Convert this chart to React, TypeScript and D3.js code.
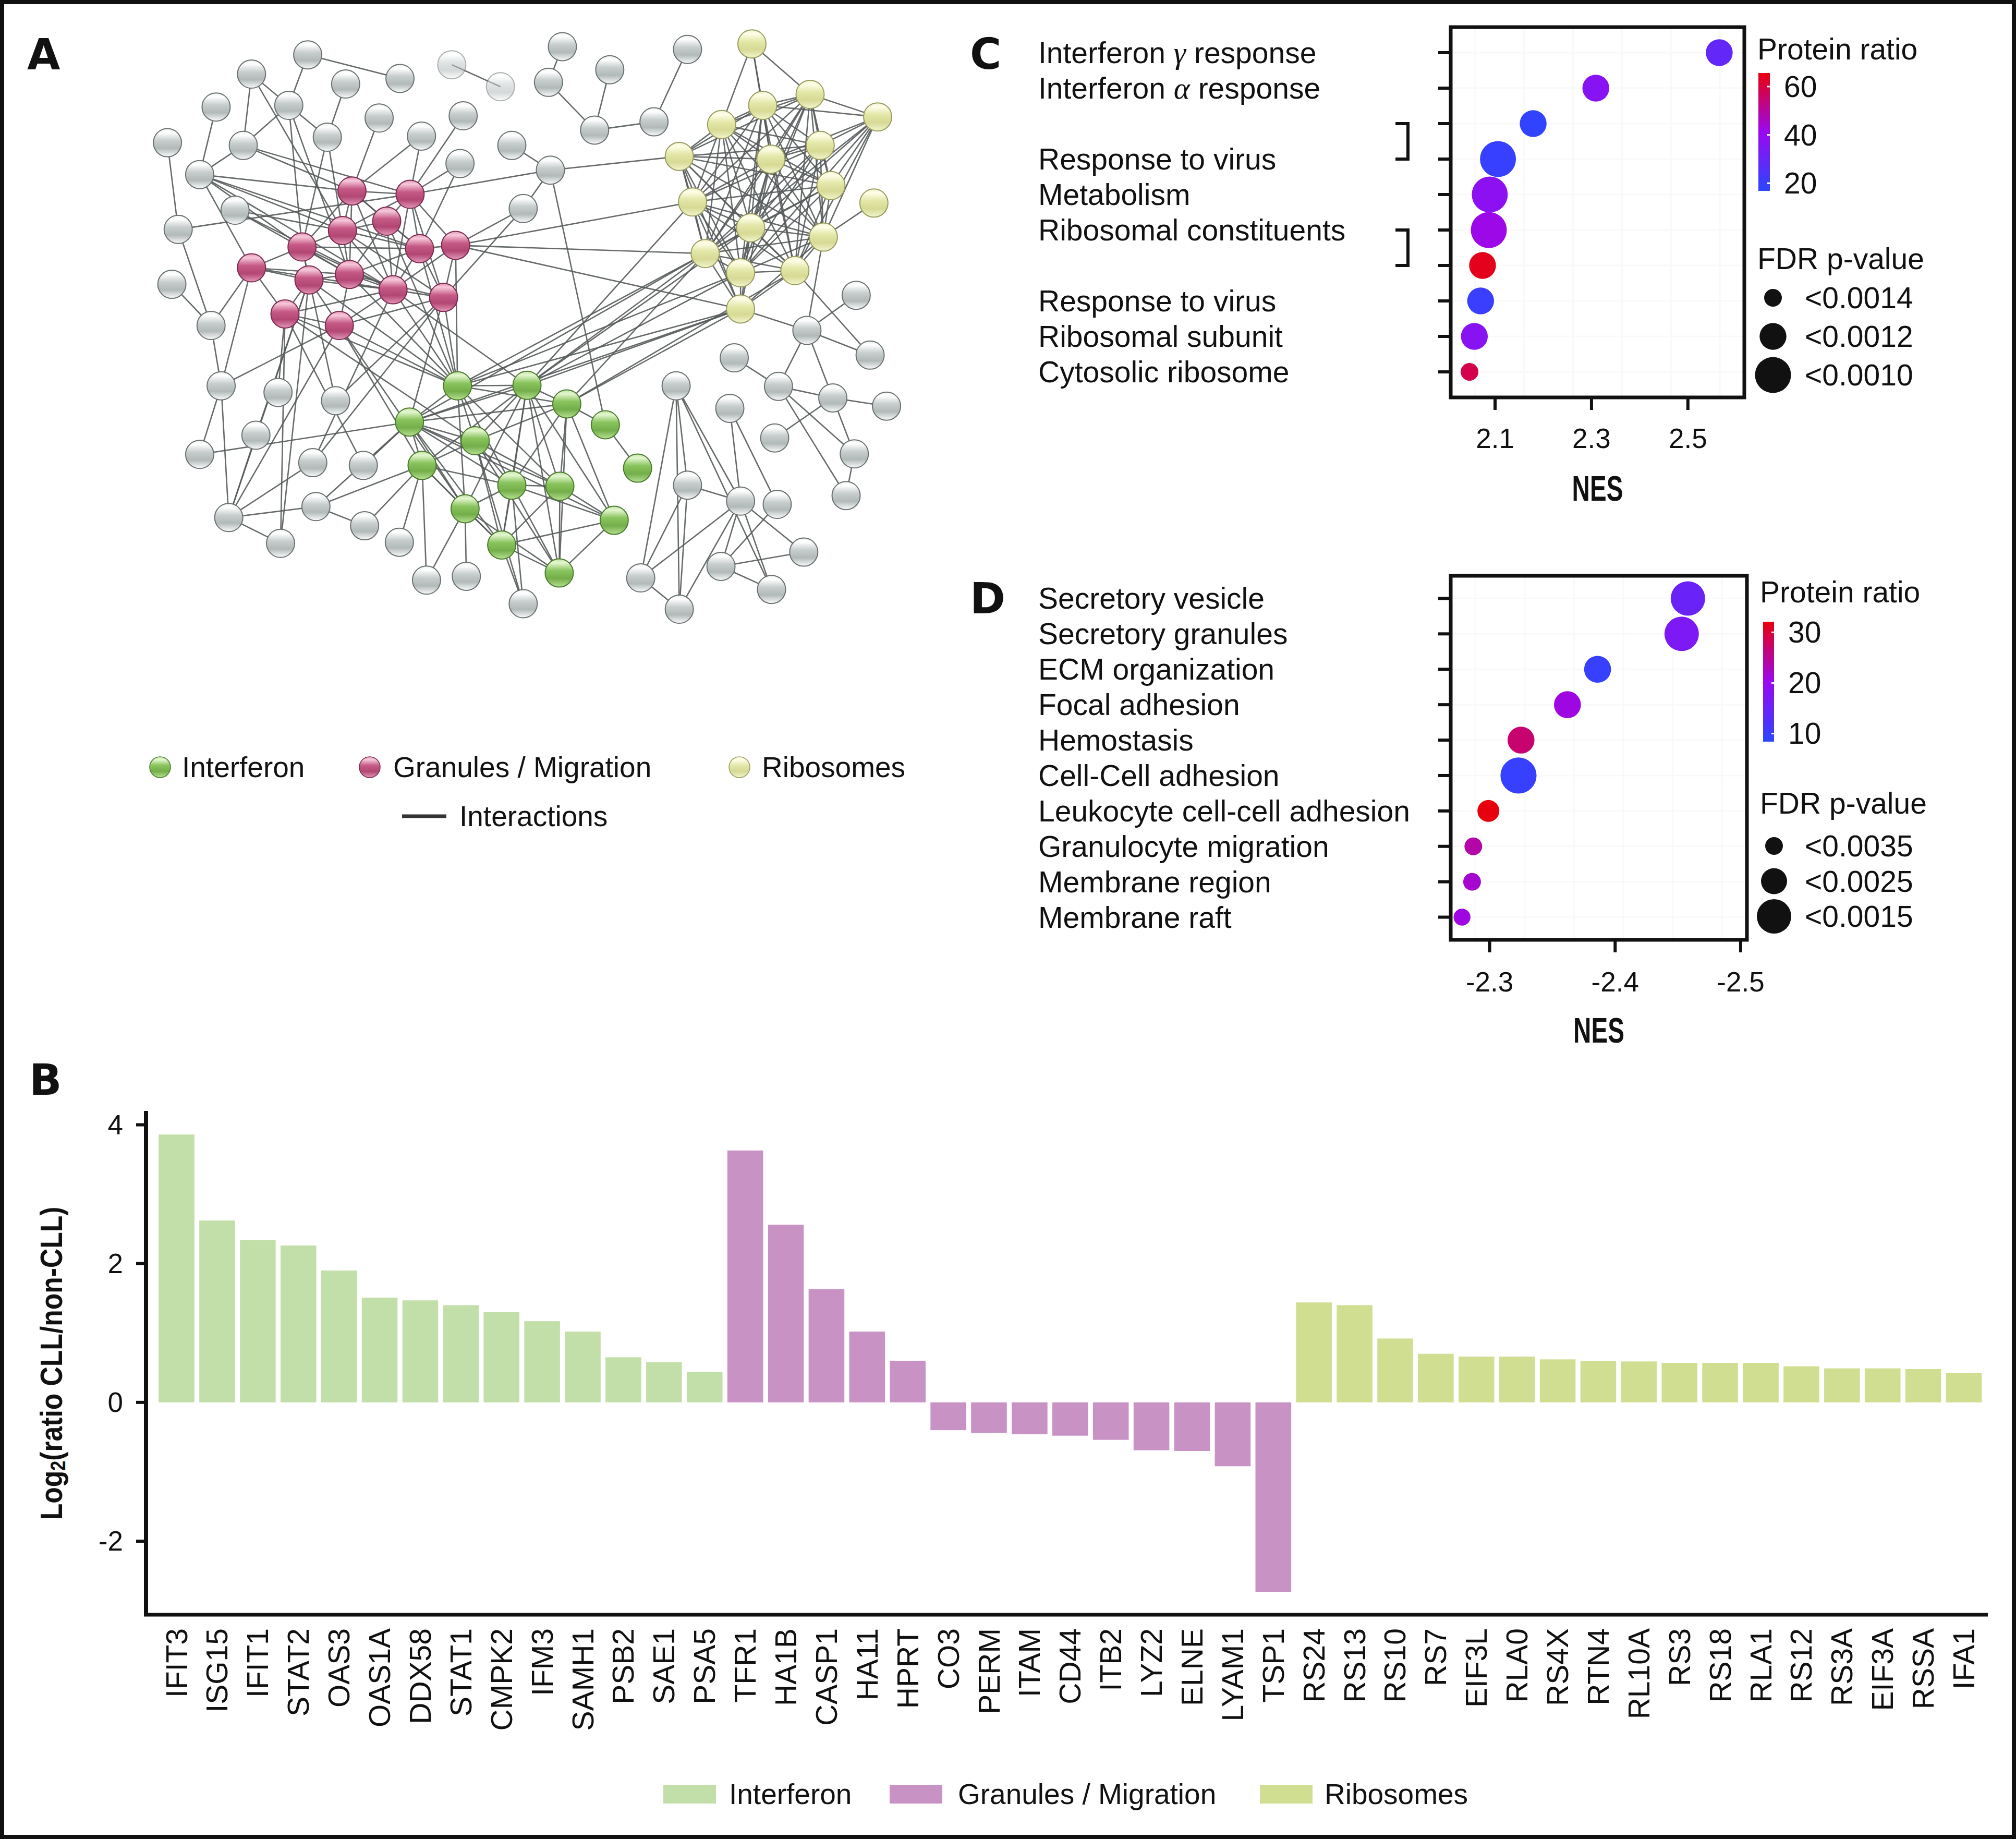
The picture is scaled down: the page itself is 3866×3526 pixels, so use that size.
import React from "react";
import * as d3 from "d3";

const W = 3866;
const H = 3526;
const SANS = "'Liberation Sans', Arial, Helvetica, sans-serif";
const SERIF = "'Liberation Serif', 'DejaVu Serif', serif";
const HEAVY = "'DejaVu Sans', 'Liberation Sans', sans-serif";

// ---------------- Panel B data ----------------
const interferonGenes = ["IFIT3", "ISG15", "IFIT1", "STAT2", "OAS3", "OAS1A", "DDX58", "STAT1", "CMPK2", "IFM3", "SAMH1", "PSB2", "SAE1", "PSA5"];
const interferonValues = [3.86, 2.62, 2.34, 2.26, 1.9, 1.51, 1.47, 1.4, 1.3, 1.17, 1.02, 0.65, 0.58, 0.44];
const granuleGenes = ["TFR1", "HA1B", "CASP1", "HA11", "HPRT", "CO3", "PERM", "ITAM", "CD44", "ITB2", "LYZ2", "ELNE", "LYAM1", "TSP1"];
const granuleValues = [3.63, 2.56, 1.63, 1.02, 0.6, -0.4, -0.44, -0.46, -0.48, -0.54, -0.69, -0.7, -0.92, -2.73];
const ribosomeGenes = ["RS24", "RS13", "RS10", "RS7", "EIF3L", "RLA0", "RS4X", "RTN4", "RL10A", "RS3", "RS18", "RLA1", "RS12", "RS3A", "EIF3A", "RSSA", "IFA1"];
const ribosomeValues = [1.44, 1.4, 0.92, 0.7, 0.66, 0.66, 0.62, 0.6, 0.59, 0.57, 0.57, 0.57, 0.52, 0.49, 0.49, 0.48, 0.42];
const yTicksB = [-2, 0, 2, 4];
const groupLabels = ["Interferon", "Granules / Migration", "Ribosomes"];
const barColors = ["#c3dfa9", "#c892c4", "#d0de91"];

// ---------------- Panel C data ----------------
// [text before greek, greek letter, text after]
const cTerms: [string, string, string][] = [
  ["Interferon ", "\u03b3", " response"], ["Interferon ", "\u03b1", " response"], ["", "", ""],
  ["Response to virus", "", ""], ["Metabolism", "", ""], ["Ribosomal constituents", "", ""], ["", "", ""],
  ["Response to virus", "", ""], ["Ribosomal subunit", "", ""], ["Cytosolic ribosome", "", ""],
];
const cNES = [2.565, 2.309, 2.179, 2.106, 2.089, 2.087, 2.074, 2.07, 2.057, 2.047];
const cRatio = [29, 37, 18, 19, 38, 42, 64, 20, 37, 59];
const cFDR = [0.0012, 0.0012, 0.0012, 0.001, 0.001, 0.001, 0.0012, 0.0012, 0.0012, 0.0014];
const cXTicks = [2.1, 2.3, 2.5];
const cRatioTicks = [20, 40, 60];
const cFdrLegend = [0.0014, 0.0012, 0.001];
const cBrackets: [number, number][] = [[2, 3], [5, 6]];

// ---------------- Panel D data ----------------
const dTerms: [string, string, string][] = [
  "Secretory vesicle", "Secretory granules", "ECM organization", "Focal adhesion", "Hemostasis",
  "Cell-Cell adhesion", "Leukocyte cell-cell adhesion", "Granulocyte migration", "Membrane region", "Membrane raft",
].map((s) => [s, "", ""] as [string, string, string]);
const dNES = [-2.458, -2.453, -2.386, -2.362, -2.325, -2.323, -2.299, -2.287, -2.286, -2.278];
const dRatio = [15, 17, 9.5, 21, 27, 9.5, 32, 24, 22, 21];
const dFDR = [0.0015, 0.0015, 0.0024, 0.0024, 0.0024, 0.0013, 0.003, 0.0035, 0.0035, 0.0036];
const dXTicks = [-2.3, -2.4, -2.5];
const dRatioTicks = [10, 20, 30];
const dFdrLegend = [0.0035, 0.0025, 0.0015];

// ---------------- Panel A network (layout units) ----------------
const grayNodes: [string, number, number][] = [
  ["g1", 487, 100], ["g2", 398, 135], ["g3", 633, 143], ["g4", 715, 118], ["g5", 792, 158],
  ["g6", 890, 85], ["g7", 965, 127], ["g8", 868, 150], ["g9", 1088, 90], ["g10", 941, 237],
  ["g11", 1035, 222], ["g12", 342, 195], ["g13", 457, 192], ["g14", 547, 153], ["g15", 600, 215],
  ["g16", 733, 211], ["g17", 265, 260], ["g18", 385, 265], ["g19", 518, 250], ["g20", 667, 248],
  ["g21", 810, 265], ["g22", 728, 298], ["g23", 316, 318], ["g24", 871, 310], ["g25", 372, 383],
  ["g26", 828, 380], ["g27", 282, 418], ["g28", 272, 518], ["g29", 334, 593], ["g30", 350, 703],
  ["g31", 440, 715], ["g32", 531, 730], ["g33", 405, 793], ["g34", 316, 828], ["g35", 495, 843],
  ["g36", 575, 848], ["g37", 362, 943], ["g38", 500, 923], ["g39", 577, 958], ["g40", 444, 990],
  ["g41", 632, 988], ["g42", 675, 1057], ["g43", 738, 1050], ["g44", 828, 1100],
  ["R1", 1355, 538], ["R2", 1277, 602], ["R3", 1162, 652], ["R4", 1377, 647], ["R5", 1232, 704],
  ["R6", 1318, 725], ["R7", 1403, 740], ["R8", 1070, 703], ["R9", 1155, 744], ["R10", 1226, 798],
  ["R11", 1352, 827], ["R12", 1339, 903], ["R13", 1088, 884], ["R14", 1172, 913], ["R15", 1230, 919],
  ["R16", 1272, 1006], ["R17", 1141, 1032], ["R18", 1014, 1053], ["R19", 1221, 1074], ["R20", 1075, 1110],
];
const granuleNodes: [string, number, number][] = [
  ["P1", 557, 348], ["P2", 649, 354], ["P3", 612, 403], ["P4", 542, 420], ["P5", 478, 450],
  ["P6", 664, 453], ["P7", 721, 447], ["P8", 398, 488], ["P9", 489, 510], ["P10", 553, 500],
  ["P11", 622, 528], ["P12", 702, 542], ["P13", 451, 572], ["P14", 537, 593],
];
const interferonNodes: [string, number, number][] = [
  ["G1", 724, 703], ["G2", 834, 702], ["G3", 897, 736], ["G4", 958, 774], ["G5", 648, 769],
  ["G6", 752, 803], ["G7", 668, 848], ["G8", 1009, 853], ["G9", 810, 884], ["G10", 886, 886],
  ["G11", 736, 927], ["G12", 972, 948], ["G13", 794, 993], ["G14", 885, 1044],
];
const ribosomeNodes: [string, number, number][] = [
  ["Y1", 1190, 80], ["Y2", 1282, 172], ["Y3", 1207, 192], ["Y4", 1389, 213], ["Y5", 1142, 227],
  ["Y6", 1298, 265], ["Y7", 1075, 285], ["Y8", 1220, 290], ["Y9", 1315, 338], ["Y10", 1383, 370],
  ["Y11", 1096, 368], ["Y12", 1188, 415], ["Y13", 1303, 432], ["Y14", 1116, 462], ["Y15", 1172, 497],
  ["Y16", 1258, 493], ["Y17", 1172, 563],
];
const fadedNodes = ["g4", "g5"];
const networkEdges: string[] = [
  "g1:g3,g13", "g2:g18,g13,P4", "g4:g5", "g6:g8", "g7:g10", "g8:g10", "g9:g11", "g10:g11",
  "g12:g23", "g13:g18,g19,P5,P10", "g14:g19", "g15:P1", "g16:P2", "g17:g27", "g18:g23,P1,P2",
  "g19:P5,P4", "g20:P1,P2", "g21:g24", "g22:P2,P6", "g23:P1,P4,P5,P6,P8,P11", "g24:g26,P2,Y7,G4",
  "g25:P4,P11,P10", "g26:P7,P12", "g27:g29,P2", "g28:g29", "g29:g30,P8", "g30:g34,g37,P8,P14",
  "g31:P13", "g32:P12,P5", "g33:g37,P9", "g34:G5", "g35:g37,P11,P12", "g36:G5,P13",
  "g37:g38,g40,P9,P14", "g38:g39,G7,G5", "g39:G7", "g40:P9,P13", "g41:G7", "g42:G7,G11", "g43:G11",
  "g44:G6,G9,G13",
  "P1:P2,P3,P4,P5,P6,P10,P11", "P2:P3,P4,P6,P7,P11,P12", "P3:P4,P6,P10,P11,G1",
  "P4:P5,P6,P10,P11,P12", "P5:P6,P8,P9,P10,P11", "P6:P7,P10,P11,P12,G1",
  "P7:P11,P12,Y11,Y14,Y17,G1", "P8:P9,P10,P11,P13", "P9:P10,P11,P13,P14,G1",
  "P10:P11,P12,P14,G1", "P11:P12,P13,P14,G1,G2", "P12:P14,G1,G5", "P13:P14,G1,G6", "P14:G1,G7,G11",
  "G1:G2,G3,G5,G6,G9,G10,G11", "G2:G3,G5,G6,G7,G9,G10,G11,G12,G13,G14", "G3:G4,G5,G6,G9,G10,G12,G14",
  "G4:G8", "G5:G6,G7,G9,G10,G11,G12,G13", "G6:G7,G9,G10,G13,G14", "G7:G9,G11,G13",
  "G9:G10,G11,G12,G13,G14", "G10:G12,G13,G14", "G11:G13,G14", "G12:G13,G14", "G13:G14",
  "Y1:Y2,Y3,Y5,Y8",
  "Y2:Y3,Y5,Y6,Y7,Y8,Y9,Y11,Y12,Y13,Y14,Y15,Y16", "Y3:Y5,Y6,Y7,Y8,Y9,Y11,Y12,Y13,Y14,Y15,Y16",
  "Y4:Y2,Y3,Y6,Y8,Y9,Y12,Y13,Y14,Y15,Y16",
  "Y5:Y6,Y7,Y8,Y9,Y11,Y12,Y13,Y14,Y15,Y16", "Y6:Y7,Y8,Y9,Y11,Y12,Y13,Y14,Y15,Y16",
  "Y7:Y8,Y9,Y11,Y12,Y13,Y14,Y15,Y16", "Y8:Y9,Y11,Y12,Y13,Y14,Y15,Y16", "Y9:Y11,Y12,Y13,Y14,Y15,Y16",
  "Y10:Y13", "Y11:Y12,Y13,Y14,Y15,Y16,G2", "Y12:Y13,Y14,Y15,Y16,G2", "Y13:Y14,Y15,Y16,R2",
  "Y14:Y15,Y16,G1,G2,G3,G5", "Y15:Y16,G1,G2", "Y16:G3,R4",
  "Y17:Y7,Y8,Y11,Y12,Y13,Y14,Y15,Y16,G1,G2,G3,G5,R2",
  "R1:R2", "R2:R4,R5,R6", "R3:R5", "R5:R6,R11,R12", "R6:R7,R10,R11", "R11:R12",
  "R8:R13,R14,R18,R19,R20", "R9:R14,R15", "R13:R14,R18,R20", "R14:R16,R17,R18,R19,R20",
  "R15:R17", "R16:R17", "R17:R19", "R18:R20",
];

// ---------------- helpers ----------------
const cbColors = ["#2c46ff", "#9a08f0", "#e8000c"];

type DotProps = {
  terms: [string, string, string][]; nes: number[]; ratio: number[]; fdr: number[];
  box: { l: number; r: number; t: number; b: number }; rowPad: number;
  xDomain: [number, number]; xTicks: number[];
  ratioDomain: [number, number, number]; ratioTicks: number[];
  fdrDomain: [number, number]; rRange: [number, number]; fdrLegend: number[];
  cb: { x: number; w: number; t: number; b: number; labelX: number };
  titleX: number; ratioTitleY: number; fdrTitleY: number; fdrRows: [number, number]; fdrDotX: number; fdrLabelX: number;
  tickLabelY: number; nesY: number; gradId: string; brackets?: [number, number][]; labelX: number;
};

function DotPanel(p: DotProps) {
  const idx = p.terms.map((_, i) => String(i));
  const y = d3.scalePoint<string>().domain(idx).range([p.box.t, p.box.b]).padding(p.rowPad);
  const x = d3.scaleLinear().domain(p.xDomain).range([p.box.l, p.box.r]);
  const color = d3.scaleLinear<string>().domain(p.ratioDomain).range(cbColors).interpolate(d3.interpolateRgb);
  const rad = d3.scaleLinear().domain(p.fdrDomain).range(p.rRange);
  const cbY = d3.scaleLinear().domain([p.ratioDomain[0], p.ratioDomain[2]]).range([p.cb.b, p.cb.t]);
  const fdrY = d3.scalePoint<string>().domain(p.fdrLegend.map(String)).range(p.fdrRows);
  const minor = d3.range(0, 6).map((i) => p.xDomain[0] + ((p.xDomain[1] - p.xDomain[0]) * (i + 0.5)) / 6);
  const fs = 57;
  return (
    <g>
      <defs>
        <linearGradient id={p.gradId} x1="0" y1="1" x2="0" y2="0">
          <stop offset="0" stopColor={color(p.ratioDomain[0])} />
          <stop offset="0.5" stopColor={color(p.ratioDomain[1])} />
          <stop offset="1" stopColor={color(p.ratioDomain[2])} />
        </linearGradient>
      </defs>
      {minor.map((v, i) => (
        <line key={"gv" + i} x1={x(v)} x2={x(v)} y1={p.box.t} y2={p.box.b} stroke="#f9f9f9" strokeWidth={3} />
      ))}
      {idx.map((k) => (
        <line key={"gh" + k} x1={p.box.l} x2={p.box.r} y1={y(k)} y2={y(k)} stroke="#f9f9f9" strokeWidth={3} />
      ))}
      {idx.map((k, i) => (
        <circle key={"d" + k} cx={x(p.nes[i])} cy={y(k)} r={rad(p.fdr[i])} fill={color(p.ratio[i])} />
      ))}
      <rect x={p.box.l} y={p.box.t} width={p.box.r - p.box.l} height={p.box.b - p.box.t} fill="none" stroke="#111" strokeWidth={7} />
      {idx.map((k, i) => {
        const [a, g, b] = p.terms[i];
        return (
          <g key={"yt" + k}>
            <line x1={p.box.l - 24} x2={p.box.l} y1={y(k)} y2={y(k)} stroke="#111" strokeWidth={6} />
            {a && (
              <text x={p.labelX} y={y(k)} dominantBaseline="central" fontFamily={SANS} fontSize={fs} fill="#111">
                {a}
                {g && (
                  <tspan fontFamily={SERIF} fontStyle="italic" fontSize={fs + 2}>
                    {g}
                  </tspan>
                )}
                {b}
              </text>
            )}
          </g>
        );
      })}
      {(p.brackets || []).map(([a, b], i) => {
        const y1 = y(String(a)) as number;
        const y2 = y(String(b)) as number;
        const bx = p.box.l - 82;
        return <path key={"br" + i} d={`M${bx - 24},${y1} H${bx} V${y2} H${bx - 24}`} fill="none" stroke="#111" strokeWidth={6} />;
      })}
      {p.xTicks.map((t) => (
        <g key={"xt" + t}>
          <line x1={x(t)} x2={x(t)} y1={p.box.b} y2={p.box.b + 24} stroke="#111" strokeWidth={6} />
          <text x={x(t)} y={p.tickLabelY} textAnchor="middle" dominantBaseline="central" fontFamily={SANS} fontSize={53} fill="#111">
            {t}
          </text>
        </g>
      ))}
      <g transform={`translate(${(p.box.l + p.box.r) / 2},${p.nesY}) scale(0.7,1)`}>
        <text x={0} y={0} textAnchor="middle" dominantBaseline="central" fontFamily={SANS} fontWeight="bold" fontSize={68} fill="#111">
          NES
        </text>
      </g>
      <text x={p.titleX} y={p.ratioTitleY} dominantBaseline="central" fontFamily={SANS} fontSize={fs} fill="#111">Protein ratio</text>
      <rect x={p.cb.x} y={p.cb.t} width={p.cb.w} height={p.cb.b - p.cb.t} fill={`url(#${p.gradId})`} />
      {p.ratioTicks.map((t) => (
        <g key={"cb" + t}>
          <line x1={p.cb.x + p.cb.w - 5} x2={p.cb.x + p.cb.w} y1={cbY(t)} y2={cbY(t)} stroke="#fff" strokeWidth={3} />
          <text x={p.cb.labelX} y={cbY(t)} dominantBaseline="central" fontFamily={SANS} fontSize={fs} fill="#111">{t}</text>
        </g>
      ))}
      <text x={p.titleX} y={p.fdrTitleY} dominantBaseline="central" fontFamily={SANS} fontSize={fs} fill="#111">FDR p-value</text>
      {p.fdrLegend.map((f) => (
        <g key={"fl" + f}>
          <circle cx={p.fdrDotX} cy={fdrY(String(f))} r={rad(f)} fill="#111" />
          <text x={p.fdrLabelX} y={fdrY(String(f))} dominantBaseline="central" fontFamily={SANS} fontSize={fs} fill="#111">
            {"<" + f.toFixed(4)}
          </text>
        </g>
      ))}
    </g>
  );
}

const sphereStops: Record<string, string[]> = {
  gray: ["#f1f3f3", "#ffffff", "#c8cece", "#b2b9b9", "#fbfcfc", "#6a7171"],
  pink: ["#e59ab8", "#f6c8da", "#c65a86", "#b24674", "#e498b8", "#7a2a50"],
  green: ["#c4e4a4", "#e4f6d0", "#88c35c", "#74ae4a", "#b8e294", "#4b7a2e"],
  yellow: ["#f2f4d4", "#fefee8", "#e3e7a8", "#d6da94", "#f3f5cf", "#9a9c5e"],
};

function SphereGrad({ id, c }: { id: string; c: string[] }) {
  return (
    <linearGradient id={id} x1="0" y1="0" x2="0" y2="1">
      <stop offset="0" stopColor={c[0]} />
      <stop offset="0.14" stopColor={c[1]} />
      <stop offset="0.42" stopColor={c[2]} />
      <stop offset="0.7" stopColor={c[3]} />
      <stop offset="1" stopColor={c[4]} />
    </linearGradient>
  );
}

export default function App() {
  const netX = d3.scaleLinear().domain([0, 1568]).range([0, 1900]);
  const netY = d3.scaleLinear().domain([0, 1568]).range([0, 1650]);
  const nodeGroups: [string, [string, number, number][]][] = [
    ["gray", grayNodes], ["pink", granuleNodes], ["green", interferonNodes], ["yellow", ribosomeNodes],
  ];
  const nodeMap = new Map<string, { x: number; y: number; g: string }>();
  nodeGroups.forEach(([g, arr]) => arr.forEach(([id, nx, ny]) => nodeMap.set(id, { x: netX(nx), y: netY(ny), g })));
  const edges: [string, string][] = [];
  networkEdges.forEach((s) => {
    const [a, rest] = s.split(":");
    rest.split(",").forEach((b) => edges.push([a, b]));
  });
  const nodeR = 27;

  const genes = [...interferonGenes, ...granuleGenes, ...ribosomeGenes];
  const values = [...interferonValues, ...granuleValues, ...ribosomeValues];
  const groups = [...interferonGenes.map(() => 0), ...granuleGenes.map(() => 1), ...ribosomeGenes.map(() => 2)];
  const xB = d3.scaleBand<string>().domain(genes).range([299.6, 3805]).paddingInner(0.12).paddingOuter(0.06);
  const yB = d3.scaleLinear().domain([-3.06, 4.2]).range([3096, 2130]);

  const legendA = [
    { c: "green", x: 307, tx: 349, label: groupLabels[0] },
    { c: "pink", x: 709, tx: 754, label: groupLabels[1] },
    { c: "yellow", x: 1418, tx: 1461, label: groupLabels[2] },
  ];
  const legendB = [{ x: 1272, tx: 1398 }, { x: 1706, tx: 1837 }, { x: 2416, tx: 2540 }];

  return (
    <svg
      width={W}
      height={H}
      viewBox={`0 0 ${W} ${H}`}
      xmlns="http://www.w3.org/2000/svg"
      style={{ position: "absolute", left: 0, top: 0, display: "block", background: "#fff" }}
    >
      <defs>
        {Object.entries(sphereStops).map(([k, c]) => (
          <SphereGrad key={k} id={"sph-" + k} c={c} />
        ))}
      </defs>
      <rect x={0} y={0} width={W} height={H} fill="#fff" />
      <rect x={4} y={4} width={W - 8} height={H - 8} fill="none" stroke="#111" strokeWidth={8} />

      {[
        ["A", 52, 133],
        ["B", 56, 2099],
        ["C", 1860, 132],
        ["D", 1860, 1176],
      ].map(([t, x, y]) => (
        <text key={t as string} x={x as number} y={y as number} fontFamily={HEAVY} fontWeight="bold" fontSize={82} fill="#111">
          {t}
        </text>
      ))}

      {/* Panel A network */}
      <g>
        {edges.map(([a, b], i) => {
          const A = nodeMap.get(a);
          const B = nodeMap.get(b);
          if (!A || !B) return null;
          return <line key={"e" + i} x1={A.x} y1={A.y} x2={B.x} y2={B.y} stroke="#555a5a" strokeWidth={2.6} strokeOpacity={0.9} />;
        })}
        {Array.from(nodeMap.entries()).map(([id, n]) => (
          <circle
            key={id}
            cx={n.x}
            cy={n.y}
            r={nodeR}
            fill={`url(#sph-${n.g})`}
            stroke={sphereStops[n.g][5]}
            strokeWidth={2}
            opacity={fadedNodes.includes(id) ? 0.55 : 1}
          />
        ))}
        {legendA.map((l) => (
          <g key={l.label}>
            <circle cx={l.x} cy={1471} r={20} fill={`url(#sph-${l.c})`} stroke={sphereStops[l.c][5]} strokeWidth={1.5} />
            <text x={l.tx} y={1471} dominantBaseline="central" fontFamily={SANS} fontSize={55} fill="#111">{l.label}</text>
          </g>
        ))}
        <line x1={771} x2={856} y1={1565} y2={1565} stroke="#333" strokeWidth={7} />
        <text x={881} y={1565} dominantBaseline="central" fontFamily={SANS} fontSize={55} fill="#111">Interactions</text>
      </g>

      {/* Panel C */}
      <DotPanel
        terms={cTerms} nes={cNES} ratio={cRatio} fdr={cFDR}
        box={{ l: 2782, r: 3345, t: 52, b: 762 }} rowPad={0.72}
        xDomain={[2.008, 2.617]} xTicks={cXTicks}
        ratioDomain={[16.8, 41.2, 65.6]} ratioTicks={cRatioTicks}
        fdrDomain={[0.001, 0.0014]} rRange={[34.5, 17]} fdrLegend={cFdrLegend}
        cb={{ x: 3372, w: 22, t: 140, b: 366, labelX: 3421 }}
        titleX={3370} ratioTitleY={94} fdrTitleY={496} fdrRows={[571, 719]} fdrDotX={3400} fdrLabelX={3461}
        tickLabelY={840} nesY={936} gradId="cbC" brackets={cBrackets} labelX={1991}
      />

      {/* Panel D */}
      <DotPanel
        terms={dTerms} nes={dNES} ratio={dRatio} fdr={dFDR}
        box={{ l: 2782, r: 3350, t: 1104, b: 1802 }} rowPad={0.64}
        xDomain={[-2.269, -2.505]} xTicks={dXTicks}
        ratioDomain={[8.4, 20.25, 32.1]} ratioTicks={dRatioTicks}
        fdrDomain={[0.0015, 0.0035]} rRange={[33, 17]} fdrLegend={dFdrLegend}
        cb={{ x: 3381, w: 21, t: 1192, b: 1422, labelX: 3429 }}
        titleX={3375} ratioTitleY={1135} fdrTitleY={1540} fdrRows={[1622, 1757]} fdrDotX={3402} fdrLabelX={3461}
        tickLabelY={1882} nesY={1975} gradId="cbD" labelX={1991}
      />

      {/* Panel B */}
      <g>
        {genes.map((g, i) => {
          const v = values[i];
          const y0 = yB(0);
          const yv = yB(v);
          return (
            <rect key={"b" + g} x={xB(g)} y={Math.min(y0, yv)} width={xB.bandwidth()} height={Math.abs(yv - y0)} fill={barColors[groups[i]]} />
          );
        })}
        <line x1={280} x2={280} y1={yB(4.2)} y2={3099} stroke="#111" strokeWidth={8} />
        <line x1={276} x2={3812} y1={3096} y2={3096} stroke="#111" strokeWidth={7} />
        {yTicksB.map((t) => (
          <g key={"yb" + t}>
            <line x1={261} x2={280} y1={yB(t)} y2={yB(t)} stroke="#111" strokeWidth={6} />
            <text x={236} y={yB(t)} textAnchor="end" dominantBaseline="central" fontFamily={SANS} fontSize={53} fill="#111">
              {t}
            </text>
          </g>
        ))}
        <g transform={`translate(98,2614) rotate(-90) scale(0.86,1)`}>
          <text x={0} y={0} textAnchor="middle" dominantBaseline="central" fontFamily={SANS} fontWeight="bold" fontSize={60} fill="#111">
            Log<tspan fontSize={40} dy={13}>2</tspan>
            <tspan dy={-13}>(ratio CLL/non-CLL)</tspan>
          </text>
        </g>
        {genes.map((g) => (
          <text
            key={"xl" + g}
            transform={`translate(${(xB(g) as number) + xB.bandwidth() / 2},3122) rotate(-90)`}
            textAnchor="end"
            dominantBaseline="central"
            fontFamily={SANS}
            fontSize={57}
            fill="#111"
          >
            {g}
          </text>
        ))}
        {legendB.map((l, i) => (
          <g key={"lb" + i}>
            <rect x={l.x} y={3422} width={101} height={36} fill={barColors[i]} />
            <text x={l.tx} y={3440} dominantBaseline="central" fontFamily={SANS} fontSize={55} fill="#111">
              {groupLabels[i]}
            </text>
          </g>
        ))}
      </g>
    </svg>
  );
}
